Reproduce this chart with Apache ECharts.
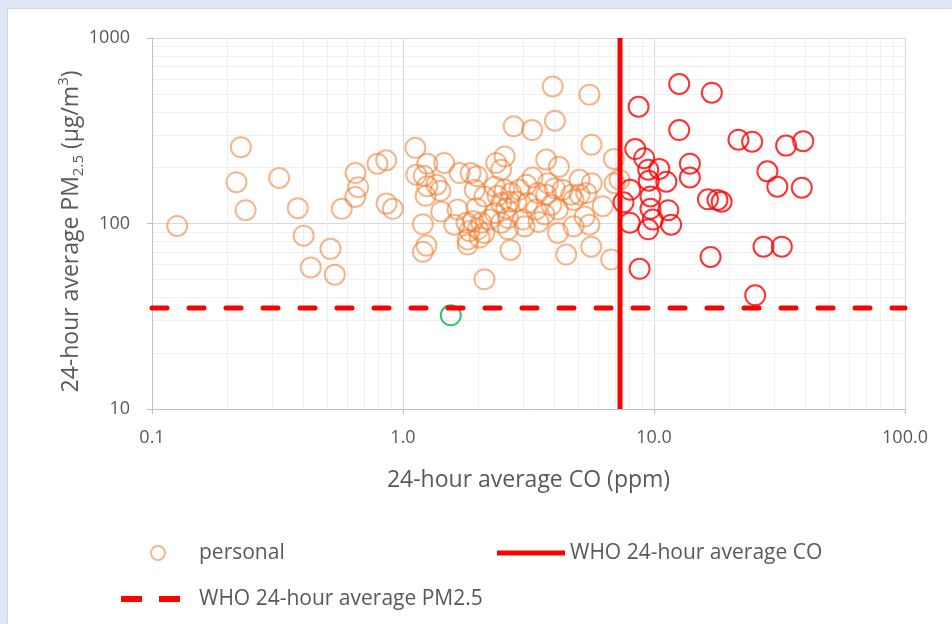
<!DOCTYPE html>
<html>
<head>
<meta charset="utf-8">
<script src="https://cdn.jsdelivr.net/npm/echarts@6/dist/echarts.min.js"></script>
<style>
  body { margin: 0; }
  #wrap { position: relative; width: 952px; height: 624px; background: #dde8f4; overflow: hidden; }
  #chart { position: absolute; left: 8px; top: 9px; width: 944px; height: 615px; background: #fff; box-shadow: -1px -1px 0 #cfd6de; }
</style>
</head>
<body>
<div id="wrap"><div id="chart"></div></div>
<script>
// 个人暴露：CO (ppm), PM2.5 (µg/m3)
var personal = [
  [0.126, 97], [0.226, 258], [0.217, 167], [0.236, 118], [0.321, 176], [0.381, 121],
  [0.402, 86], [0.514, 73], [0.429, 58], [0.535, 53], [0.570, 120], [0.647, 187],
  [0.663, 157], [0.645, 139], [0.791, 210], [0.857, 219], [0.860, 128], [0.911, 120],
  [1.12, 256], [1.13, 183], [1.25, 210], [1.21, 181], [1.25, 159], [1.23, 141],
  [1.36, 162], [1.41, 150], [1.20, 99], [1.24, 76], [1.20, 70.5], [1.46, 212],
  [1.68, 187], [1.86, 187], [1.97, 180], [1.93, 152], [2.35, 212], [2.54, 230],
  [2.46, 195], [2.32, 158], [2.11, 140], [2.54, 152], [2.46, 129], [2.66, 131],
  [1.42, 116], [1.65, 119], [1.96, 121], [2.32, 114], [1.60, 98.5], [1.79, 101],
  [1.90, 103], [2.05, 101], [2.21, 105], [1.84, 91], [1.99, 93], [2.11, 89],
  [2.46, 101], [2.62, 93], [1.81, 82], [2.02, 84], [1.81, 77], [2.68, 72],
  [2.11, 50], [2.76, 334], [3.95, 548], [5.53, 495], [3.27, 319], [4.03, 358],
  [5.64, 266], [3.72, 221], [4.18, 202], [6.92, 223], [7.29, 172], [6.96, 165],
  [5.05, 172], [5.65, 165], [3.10, 162], [3.78, 165], [4.02, 155], [3.44, 146],
  [2.70, 146], [2.83, 131], [2.58, 121], [3.14, 129], [3.72, 143], [3.90, 126],
  [4.68, 143], [5.05, 143], [5.37, 146], [4.78, 134], [4.14, 119], [3.39, 119],
  [3.00, 105], [5.29, 109], [6.25, 124], [2.62, 107], [4.78, 96.5], [5.53, 98.5],
  [4.14, 89], [3.05, 96.5], [4.47, 68], [5.62, 75], [6.75, 64], [3.28, 177],
  [2.91, 152], [4.32, 152], [3.66, 112], [2.38, 141], [3.47, 102]
];
// 超过 WHO CO 限值
var overCO = [
  [12.6, 565], [17.0, 507], [8.68, 426], [12.6, 319], [21.7, 283], [24.6, 276],
  [33.6, 263], [39.3, 278], [8.42, 252], [9.14, 225], [13.9, 210], [13.9, 177],
  [28.3, 191], [31.0, 158], [38.8, 156], [9.48, 195], [10.5, 197], [9.53, 170],
  [11.2, 168], [8.04, 152], [9.68, 140], [7.56, 130], [16.4, 135], [17.9, 134],
  [18.6, 131], [9.68, 120], [11.4, 118], [8.01, 101], [9.89, 105], [9.48, 93],
  [11.7, 98.5], [27.3, 75], [32.3, 75], [16.8, 66], [8.76, 57], [25.3, 41]
];
// 低于 PM2.5 限值
var belowPM = [[1.55, 32]];

var whoCO = 7.32;
var whoPM = 35;
var xRange = [0.1, 100];
var yRange = [10, 1000];
var minorX = [0.2, 0.3, 0.4, 0.5, 0.6, 0.7, 0.8, 0.9, 2, 3, 4, 5, 6, 7, 8, 9, 20, 30, 40, 50, 60, 70, 80, 90];
var minorY = [20, 30, 40, 50, 60, 70, 80, 90, 200, 300, 400, 500, 600, 700, 800, 900];

var FONT = 'Open Sans';
var GREY = '#595959';

var myChart = echarts.init(document.getElementById('chart'));

var minorLines = minorX.map(function (v) { return { xAxis: v }; })
  .concat(minorY.map(function (v) { return { yAxis: v }; }));

function legendAt(item, left, top, w, h, pad) {
  return {
    data: [item],
    left: left,
    top: top,
    itemWidth: w,
    itemHeight: h,
    textStyle: { fontFamily: FONT, fontSize: 21, color: GREY, lineHeight: 24, padding: [0, 0, 0, pad || 0] }
  };
}

// 散点统一样式
function ring(color) {
  return { color: 'rgba(0,0,0,0)', borderColor: color, borderWidth: 2, borderType: 'solid' };
}

myChart.setOption({
  animation: false,
  grid: { left: 144, top: 29, width: 753, height: 371 },
  legend: [
    legendAt('personal', 137, 527, 14, 14, 29),
    legendAt({ name: 'WHO 24-hour average CO', icon: 'rect' }, 484, 527, 68, 5),
    legendAt({ name: 'WHO 24-hour average PM2.5', icon: 'path://M0,0H21V6H0Z M38,0H59V6H38Z' }, 108, 573, 59, 6, 14)
  ],
  xAxis: {
    type: 'log',
    logBase: 10,
    min: xRange[0],
    max: xRange[1],
    name: '24-hour average CO (ppm)',
    nameLocation: 'middle',
    nameGap: 60,
    nameTextStyle: { fontFamily: FONT, fontSize: 23, color: GREY },
    axisLine: { lineStyle: { color: '#bfbfbf', width: 1 } },
    axisTick: { show: true, length: 5, lineStyle: { color: '#bfbfbf' } },
    axisLabel: {
      margin: 20,
      fontFamily: FONT,
      fontSize: 18,
      color: GREY,
      formatter: function (v) { return v < 1 ? String(v) : v.toFixed(1); }
    },
    splitLine: { show: true, lineStyle: { color: '#d9d9d9', width: 1 } }
  },
  yAxis: {
    type: 'log',
    logBase: 10,
    min: yRange[0],
    max: yRange[1],
    name: '{a|24-hour average PM}{b|2.5}{a| (µg/m}{c|3}{a|)}',
    nameLocation: 'middle',
    nameRotate: 90,
    nameGap: 66,
    nameMoveOverlap: false,
    nameTextStyle: {
      padding: [0, 16, 0, 0],
      rich: {
        a: { fontFamily: FONT, fontSize: 23, color: GREY, lineHeight: 30 },
        b: { fontFamily: FONT, fontSize: 15, color: GREY, lineHeight: 14, verticalAlign: 'bottom' },
        c: { fontFamily: FONT, fontSize: 15, color: GREY, lineHeight: 14, verticalAlign: 'top' }
      }
    },
    axisLine: { show: true, lineStyle: { color: '#bfbfbf', width: 1 } },
    axisTick: { show: true, length: 5, lineStyle: { color: '#bfbfbf' } },
    axisLabel: {
      margin: 22,
      fontFamily: FONT,
      fontSize: 18,
      color: GREY,
      formatter: function (v) { return String(v); }
    },
    splitLine: { show: true, lineStyle: { color: '#d9d9d9', width: 1 } }
  },
  series: [
    {
      name: 'below PM2.5',
      type: 'scatter',
      z: 1,
      symbol: 'circle',
      symbolSize: 20,
      itemStyle: ring('#00b050'),
      data: belowPM,
      markLine: {
        z: 0,
        silent: true,
        symbol: ['none', 'none'],
        label: { show: false },
        lineStyle: { color: '#efefef', width: 1, type: 'solid' },
        emphasis: { disabled: true },
        data: minorLines
      }
    },
    {
      name: 'personal',
      type: 'scatter',
      z: 2,
      symbol: 'circle',
      symbolSize: 20,
      itemStyle: ring('rgba(237,125,49,0.7)'),
      data: personal
    },
    {
      name: 'above CO',
      type: 'scatter',
      z: 2,
      symbol: 'circle',
      symbolSize: 20,
      itemStyle: ring('#ff0000'),
      data: overCO
    },
    {
      name: 'WHO 24-hour average CO',
      type: 'line',
      z: 3,
      symbol: 'none',
      lineStyle: { color: '#ff0000', width: 5 },
      itemStyle: { color: '#ff0000' },
      data: [[whoCO, yRange[0]], [whoCO, yRange[1]]]
    },
    {
      name: 'WHO 24-hour average PM2.5',
      type: 'line',
      z: 3,
      symbol: 'none',
      lineStyle: { color: '#ff0000', width: 5, type: [15, 22], cap: 'round' },
      itemStyle: { color: '#ff0000' },
      data: [[xRange[0], whoPM], [xRange[1], whoPM]]
    }
  ]
});
</script>
</body>
</html>
